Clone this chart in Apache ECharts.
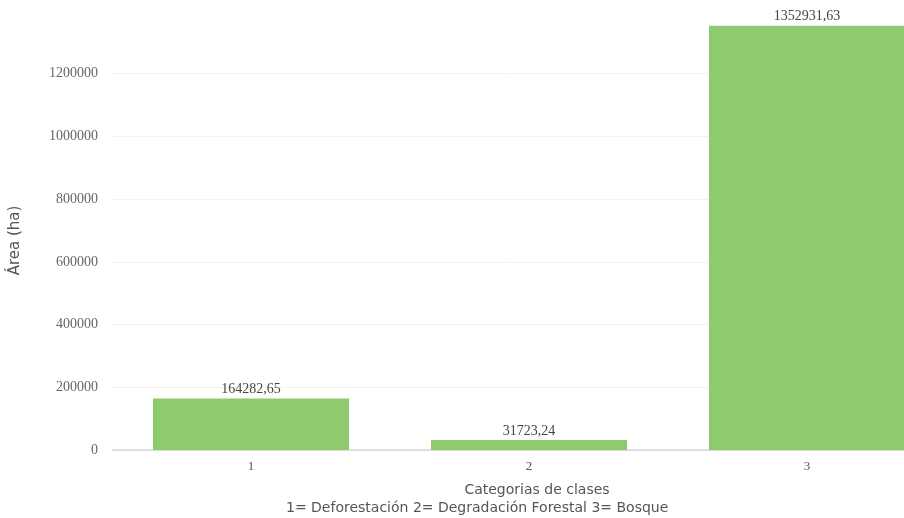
<!DOCTYPE html>
<html>
<head>
<meta charset="utf-8">
<script src="https://cdn.jsdelivr.net/npm/echarts@6/dist/echarts.min.js"></script>
<style>
  html, body { margin: 0; padding: 0; background: #fff; }
  #chart { width: 904px; height: 518px; }
</style>
</head>
<body>
<div id="chart"></div>
<script>
// categories and values
const categories = ['1', '2', '3'];
const areaHa = [164282.65, 31723.24, 1352931.63];
const xTitle = 'Categorias de clases';
const xLegendLine = '1= Deforestación 2= Degradación Forestal 3= Bosque';
const yTitle = 'Área (ha)';

const chart = echarts.init(document.getElementById('chart'), null, { renderer: 'canvas' });

chart.setOption({
    animation: false,
    backgroundColor: '#ffffff',
    title: {
        text: xLegendLine,
        left: 286,
        top: 501,
        padding: 0,
        textStyle: { fontFamily: 'DejaVu Sans', fontSize: 14, fontWeight: 'normal', color: '#555' }
    },
    // the third bar runs off the right edge in the original, so let the grid overflow
    grid: { left: 112, top: 11, width: 834, height: 439, outerBoundsMode: 'none' },
    xAxis: {
        type: 'category',
        data: categories,
        name: xTitle,
        nameLocation: 'middle',
        nameGap: 33,
        nameTextStyle: { fontFamily: 'DejaVu Sans', fontSize: 14, color: '#555', padding: [0, 0, 0, 16] },
        axisLine: { lineStyle: { color: '#d6d6d6', width: 1.5 } },
        axisTick: { alignWithLabel: true, length: 4, lineStyle: { color: '#ccc' } },
        axisLabel: { fontFamily: 'Liberation Serif', fontSize: 13, color: '#555', margin: 10 }
    },
    yAxis: {
        type: 'value',
        min: 0,
        max: 1400000,
        interval: 200000,
        name: yTitle,
        nameLocation: 'middle',
        nameGap: 89,
        nameTextStyle: { fontFamily: 'DejaVu Sans', fontSize: 15, color: '#555', padding: [0, 20, 0, 0] },
        axisLine: { show: false },
        axisTick: { show: false },
        splitLine: { showMaxLine: false, lineStyle: { color: '#f1f1f1' } },
        axisLabel: {
            showMaxLabel: false,
            margin: 14,
            fontFamily: 'Liberation Serif',
            fontSize: 14,
            color: '#666',
            formatter: v => String(v)
        }
    },
    series: [{
        type: 'bar',
        data: areaHa,
        barCategoryGap: '29.5%',
        itemStyle: { color: '#8dcb6e' },
        label: {
            show: true,
            position: 'top',
            distance: 2,
            fontFamily: 'Liberation Serif',
            fontSize: 14,
            color: '#444',
            formatter: p => p.value.toFixed(2).replace('.', ',')
        }
    }]
});
</script>
</body>
</html>
